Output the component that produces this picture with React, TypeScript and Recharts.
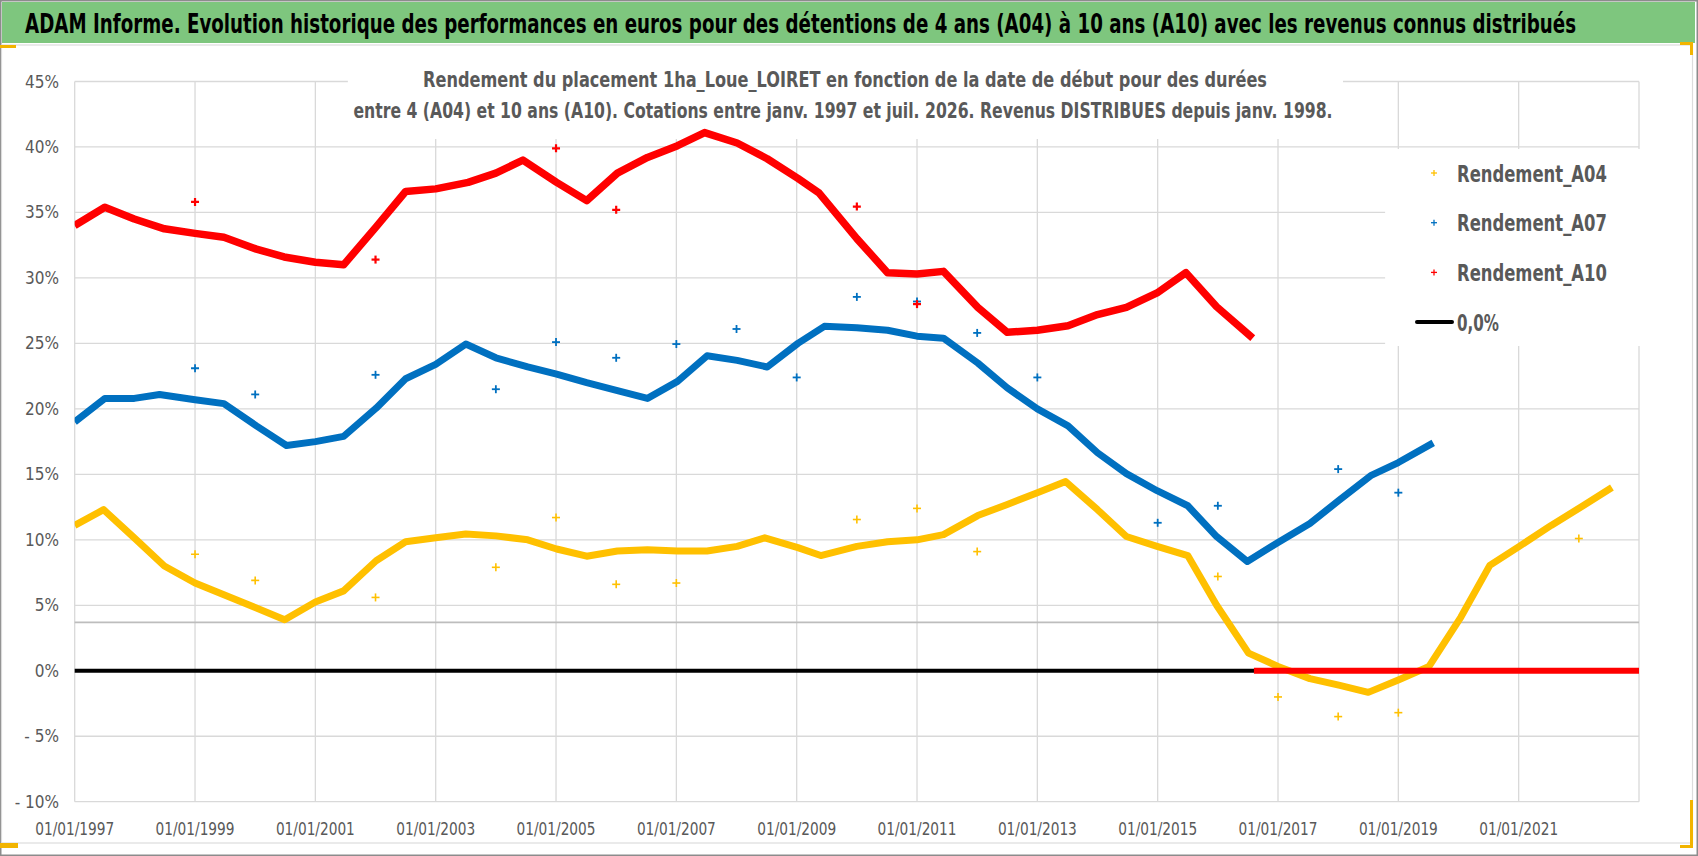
import React, { useLayoutEffect, useRef, useState } from "react";
import {
  ComposedChart, Line, Scatter,
  XAxis, YAxis, CartesianGrid,
  ReferenceLine, ReferenceArea
} from "recharts";

const W = 1698;
const H = 856;
const FONT = "'Liberation Sans Narrow', 'DejaVu Sans Condensed', 'Liberation Sans', Arial, sans-serif";
const GREY_TEXT = "#595959";

const YELLOW = "#ffc000";
const BLUE = "#0070c0";
const RED = "#ff0000";

// axes
const xTicks = [1997, 1999, 2001, 2003, 2005, 2007, 2009, 2011, 2013, 2015, 2017, 2019, 2021];
const yTicks = [-10, -5, 0, 5, 10, 15, 20, 25, 30, 35, 40, 45];

// [année (date de début), rendement %]
const a04Curve = [
  [1997.0, 11.1], [1997.48, 12.3], [1997.99, 10.15], [1998.49, 8.0], [1999.0, 6.7],
  [1999.48, 5.8], [2000.02, 4.8], [2000.49, 3.9], [2001.0, 5.25], [2001.47, 6.1],
  [2002.01, 8.4], [2002.5, 9.85], [2003.0, 10.15], [2003.5, 10.45], [2004.0, 10.3],
  [2004.53, 10.0], [2005.01, 9.3], [2005.51, 8.75], [2006.02, 9.15], [2006.52, 9.25],
  [2007.02, 9.15], [2007.51, 9.15], [2008.01, 9.5], [2008.47, 10.15], [2009.02, 9.4],
  [2009.4, 8.8], [2010.0, 9.5], [2010.51, 9.85], [2011.0, 10.0], [2011.44, 10.4],
  [2012.01, 11.85], [2012.5, 12.7], [2013.0, 13.6], [2013.47, 14.45], [2014.0, 12.3],
  [2014.48, 10.25], [2014.99, 9.5], [2015.5, 8.8], [2015.98, 5.0], [2016.51, 1.35],
  [2017.0, 0.33], [2017.53, -0.6], [2018.01, -1.1], [2018.5, -1.65], [2019.0, -0.7],
  [2019.51, 0.33], [2020.04, 4.1], [2020.52, 8.05], [2021.01, 9.5], [2021.54, 11.1],
  [2022.07, 12.6], [2022.55, 14.0],
];

const a07Curve = [
  [1997.0, 19.0], [1997.5, 20.8], [1997.99, 20.8], [1998.41, 21.1], [1999.0, 20.7],
  [1999.48, 20.4], [2000.02, 18.7], [2000.52, 17.2], [2001.0, 17.5], [2001.47, 17.9],
  [2002.01, 20.05], [2002.5, 22.3], [2003.0, 23.4], [2003.5, 24.95], [2004.0, 23.9],
  [2004.53, 23.2], [2005.01, 22.65], [2005.51, 22.0], [2006.02, 21.4], [2006.52, 20.8],
  [2007.02, 22.1], [2007.51, 24.05], [2008.01, 23.7], [2008.51, 23.2], [2009.02, 25.0],
  [2009.46, 26.3], [2010.0, 26.2], [2010.51, 26.0], [2011.0, 25.55], [2011.44, 25.4],
  [2012.01, 23.5], [2012.5, 21.6], [2013.0, 20.0], [2013.51, 18.7], [2014.0, 16.65],
  [2014.48, 15.05], [2014.99, 13.75], [2015.5, 12.6], [2015.98, 10.25], [2016.49, 8.35],
  [2017.0, 9.8], [2017.53, 11.25], [2018.01, 13.0], [2018.54, 14.9], [2019.0, 15.9],
  [2019.58, 17.4],
];

const a10Curve = [
  [1997.0, 34.0], [1997.5, 35.4], [1997.99, 34.5], [1998.49, 33.75], [1999.0, 33.4],
  [1999.48, 33.1], [2000.02, 32.2], [2000.48, 31.6], [2001.0, 31.2], [2001.47, 31.0],
  [2002.01, 33.9], [2002.5, 36.6], [2003.0, 36.8], [2003.54, 37.3], [2004.0, 38.0],
  [2004.45, 39.0], [2005.01, 37.3], [2005.51, 35.9], [2006.02, 38.0], [2006.52, 39.2],
  [2007.02, 40.1], [2007.47, 41.1], [2008.01, 40.3], [2008.51, 39.1], [2009.02, 37.6],
  [2009.37, 36.5], [2010.0, 33.0], [2010.51, 30.4], [2011.0, 30.3], [2011.44, 30.5],
  [2012.01, 27.75], [2012.5, 25.85], [2013.0, 26.0], [2013.51, 26.35], [2014.0, 27.2],
  [2014.48, 27.75], [2014.99, 28.85], [2015.47, 30.4], [2015.98, 27.8], [2016.58, 25.4],
];

// A10 non calculable après mi-2016 : tracé à 0
const a10Zero = [[2016.6, 0], [2023.0, 0]];
const zeroLine = [[1997.0, 0], [2023.0, 0]];
const greyLevel = 3.7;

// points isolés (janvier)
const a04Outliers = [
  [1999, 8.9], [2000, 6.9], [2002, 5.6], [2004, 7.9], [2005, 11.7], [2006, 6.6],
  [2007, 6.7], [2010, 11.55], [2011, 12.4], [2012, 9.1], [2016, 7.2], [2017, -2.0],
  [2018, -3.5], [2019, -3.2], [2022, 10.1],
];
const a07Outliers = [
  [1999, 23.1], [2000, 21.1], [2002, 22.6], [2004, 21.5], [2005, 25.1], [2006, 23.9],
  [2007, 24.95], [2008, 26.1], [2009, 22.4], [2010, 28.55], [2011, 28.2], [2012, 25.8],
  [2013, 22.4], [2015, 11.3], [2016, 12.6], [2018, 15.4], [2019, 13.6],
];
const a10Outliers = [
  [1999, 35.8], [2002, 31.4], [2005, 39.9], [2006, 35.2], [2010, 35.45], [2011, 28.0],
];

const legendItems = [
  { name: "Rendement_A04", color: YELLOW, kind: "plus" },
  { name: "Rendement_A07", color: BLUE, kind: "plus" },
  { name: "Rendement_A10", color: RED, kind: "plus" },
  { name: "0,0%", color: "#000000", kind: "line" },
];

const title = "ADAM Informe. Evolution historique des performances en euros pour des détentions de 4 ans (A04) à 10 ans (A10) avec les revenus connus distribués";
const subtitle1 = "Rendement du placement 1ha_Loue_LOIRET en fonction de la date de début pour des durées";
const subtitle2 = "entre 4 (A04) et 10 ans (A10).  Cotations entre janv. 1997 et juil. 2026. Revenus DISTRIBUES depuis janv. 1998.";

const toPts = (rows: number[][]) => rows.map(([year, v]) => ({ year, v }));

// texte mis à la largeur voulue par une échelle horizontale (police étroite type Calibri)
function FitText(props: any) {
  const { x, y, width, anchor = "start", size, weight = "normal", fill, children } = props;
  const ref = useRef<SVGTextElement>(null);
  const [k, setK] = useState(1);
  useLayoutEffect(() => {
    if (ref.current) {
      const w = ref.current.getComputedTextLength();
      if (w > 0) setK(width / w);
    }
  }, [width, children]);
  return (
    <text ref={ref} transform={`translate(${x} ${y}) scale(${k} 1)`} textAnchor={anchor}
      fontFamily={FONT} fontSize={size} fontWeight={weight} fill={fill}>
      {children}
    </text>
  );
}

function XTick(props: any) {
  const { x, y, payload } = props;
  return (
    <FitText x={x} y={y + 33} width={79} anchor="middle" size={17} fill={GREY_TEXT}>
      {`01/01/${payload.value}`}
    </FitText>
  );
}

function YTick(props: any) {
  const { x, y, payload } = props;
  const v = payload.value;
  const label = v < 0 ? `- ${Math.abs(v)}%` : `${v}%`;
  return (
    <text x={x} y={y + 6} textAnchor="end" fontFamily={FONT} fontSize={17} fill={GREY_TEXT}>
      {label}
    </text>
  );
}

const plusShape = (color: string, half: number, sw: number) => (props: any) => {
  const { cx, cy } = props;
  if (cx == null || cy == null) return <g />;
  return (
    <g>
      <line x1={cx - half} x2={cx + half} y1={cy} y2={cy} stroke={color} strokeWidth={sw} />
      <line x1={cx} x2={cx} y1={cy - half} y2={cy + half} stroke={color} strokeWidth={sw} />
    </g>
  );
};

function Overlay() {
  return (
    <svg width={W} height={H} style={{ position: "absolute", left: 0, top: 0, pointerEvents: "none" }}>
      {/* cadre */}
      <rect x={0.75} y={0.75} width={W - 1.5} height={H - 1.5} fill="none" stroke="#8c8c8c" strokeWidth={1.5} />
      <rect x={1.5} y={45} width={1691} height={798} fill="none" stroke="#dcdcdc" strokeWidth={1.2} />
      {/* bandeau titre */}
      <rect x={2} y={2} width={1693} height={41} fill="#7ec67e" />
      <FitText x={25} y={33} width={1552} size={27} weight="bold" fill="#000">{title}</FitText>
      {/* sous-titre */}
      <FitText x={845} y={87} width={844} anchor="middle" size={22} weight="bold" fill={GREY_TEXT}>{subtitle1}</FitText>
      <FitText x={843} y={118} width={980} anchor="middle" size={22} weight="bold" fill={GREY_TEXT}>{subtitle2}</FitText>
      {/* légende */}
      {legendItems.map((it, i) => {
        const cy = 173 + i * 49.7;
        return (
          <g key={it.name}>
            {it.kind === "plus" ? (
              <g>
                <line x1={1431} x2={1437} y1={cy} y2={cy} stroke={it.color} strokeWidth={1.3} />
                <line x1={1434} x2={1434} y1={cy - 3} y2={cy + 3} stroke={it.color} strokeWidth={1.3} />
              </g>
            ) : (
              <line x1={1417} x2={1452} y1={cy} y2={cy} stroke={it.color} strokeWidth={4} strokeLinecap="round" />
            )}
            <FitText x={1457} y={cy + 8.5} width={it.kind === "plus" ? 150 : 42} size={23}
              weight="bold" fill={GREY_TEXT}>{it.name}</FitText>
          </g>
        );
      })}
      {/* poignées de sélection */}
      <rect x={1680} y={42} width={13} height={3} fill="#f2b400" />
      <rect x={1690} y={42} width={3} height={13} fill="#f2b400" />
      <rect x={1690} y={800} width={3} height={48} fill="#f2b400" />
      <rect x={1680} y={845} width={13} height={3} fill="#f2b400" />
      <rect x={0} y={843} width={18} height={5} fill="#f2b400" />
      <rect x={0} y={45} width={16} height={3} fill="#f2b400" />
    </svg>
  );
}

export default function App() {
  return (
    <div style={{ position: "absolute", left: 0, top: 0, width: W, height: H, background: "#fff" }}>
      <ComposedChart width={W} height={H} margin={{ top: 81.5, right: 59, left: 4.7, bottom: 14.3 }}>
        <CartesianGrid stroke="#d9d9d9" strokeWidth={1.3} />
        <XAxis type="number" dataKey="year" domain={[1997, 2023]} ticks={xTicks}
          allowDataOverflow axisLine={false} tickLine={false} tickSize={0} tickMargin={0}
          height={40} tick={<XTick />} interval={0} />
        <YAxis type="number" dataKey="v" domain={[-10, 45]} ticks={yTicks}
          allowDataOverflow axisLine={false} tickLine={false} tickSize={0} tickMargin={15.7}
          width={70} tick={<YTick />} interval={0} />
        {/* fonds blancs du sous-titre et de la légende */}
        <ReferenceArea x1={2001.54} x2={2018.08} y1={40.6} y2={47} fill="#fff" fillOpacity={1}
          stroke="none" ifOverflow="visible" />
        <ReferenceArea x1={2018.78} x2={2023.2} y1={24.8} y2={39.85} fill="#fff" fillOpacity={1}
          stroke="none" ifOverflow="visible" />
        <ReferenceLine y={greyLevel} stroke="#bdbdbd" strokeWidth={1.8} />
        <Line data={toPts(zeroLine)} dataKey="v" stroke="#000" strokeWidth={4} strokeLinecap="round"
          dot={false} isAnimationActive={false} legendType="none" />
        <Line data={toPts(a04Curve)} dataKey="v" stroke={YELLOW} strokeWidth={7} strokeLinejoin="round"
          dot={false} isAnimationActive={false} />
        <Line data={toPts(a07Curve)} dataKey="v" stroke={BLUE} strokeWidth={7} strokeLinejoin="round"
          dot={false} isAnimationActive={false} />
        <Line data={toPts(a10Curve)} dataKey="v" stroke={RED} strokeWidth={7.5} strokeLinejoin="round"
          dot={false} isAnimationActive={false} />
        <Line data={toPts(a10Zero)} dataKey="v" stroke={RED} strokeWidth={6}
          dot={false} isAnimationActive={false} />
        <Scatter data={toPts(a04Outliers)} dataKey="v" shape={plusShape(YELLOW, 4, 1.6)} isAnimationActive={false} />
        <Scatter data={toPts(a07Outliers)} dataKey="v" shape={plusShape(BLUE, 4, 1.8)} isAnimationActive={false} />
        <Scatter data={toPts(a10Outliers)} dataKey="v" shape={plusShape(RED, 4, 2.2)} isAnimationActive={false} />
      </ComposedChart>
      <Overlay />
    </div>
  );
}
